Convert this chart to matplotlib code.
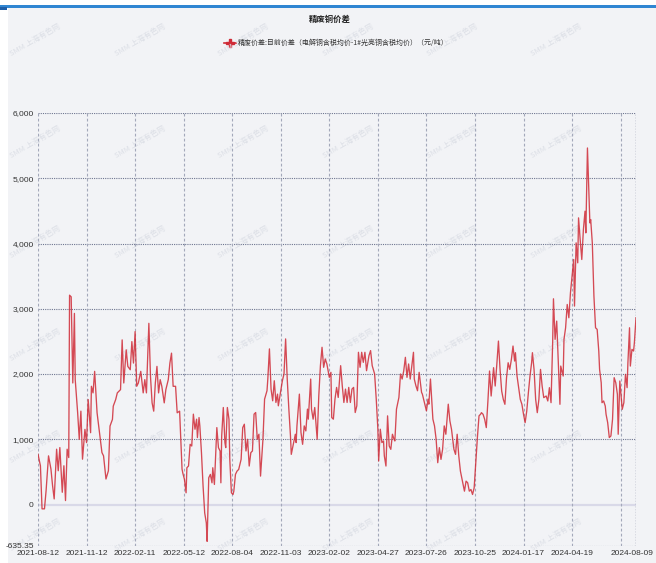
import matplotlib
matplotlib.use("Agg")
import matplotlib.pyplot as plt
import matplotlib.transforms as mtransforms
from matplotlib.lines import Line2D
from matplotlib.patches import Rectangle
from matplotlib import font_manager

# ---------------- data ----------------
title = "精废铜价差"
series_name = "精废价差:目前价差（电解铜含税均价-1#光亮铜含税均价）（元/吨）"
watermark = "SMM 上海有色网"

tick_days = [0, 60, 120, 180, 240, 300, 360, 420, 480, 540, 600, 660, 720, 739]
tick_labels = ["2021-08-12", "2021-11-12", "2022-02-11", "2022-05-12", "2022-08-04",
               "2022-11-03", "2023-02-02", "2023-04-27", "2023-07-26", "2023-10-25",
               "2024-01-17", "2024-04-19", "", "2024-08-09"]

y_ticks = [-635.35, 0, 1000, 2000, 3000, 4000, 5000, 6000]
y_tick_labels = ["-635.35", "0", "1,000", "2,000", "3,000", "4,000", "5,000", "6,000"]

# trading-day index of each reading
day = [0, 3, 5, 8, 10, 13, 16, 18, 20, 23, 25, 27, 30, 32, 34, 36, 38, 39, 41, 43,
       45, 46, 49, 51, 53, 55, 58, 60, 62, 65, 66, 68, 70, 73, 76, 79, 81, 84, 87, 89,
       92, 93, 96, 98, 102, 104, 106, 109, 111, 114, 116, 118, 120, 122, 124, 127, 130, 132, 134, 137,
       139, 141, 143, 145, 147, 149, 151, 153, 156, 158, 161, 163, 165, 167, 170, 172, 175, 178, 179, 181,
       183, 184, 186, 188, 190, 192, 194, 196, 197, 199, 200, 202, 204, 206, 208, 209, 211, 213, 215, 216,
       218, 221, 223, 225, 226, 227, 229, 231, 232, 234, 236, 237, 239, 241, 242, 244, 246, 248, 251, 253,
       255, 257, 259, 261, 263, 265, 267, 269, 271, 273, 275, 278, 280, 283, 284, 286, 288, 290, 292, 294,
       296, 297, 300, 302, 304, 306, 308, 310, 312, 313, 316, 318, 319, 320, 323, 325, 327, 329, 331, 333,
       334, 337, 338, 340, 342, 345, 347, 349, 351, 353, 355, 357, 360, 362, 363, 365, 367, 369, 371, 374,
       376, 378, 380, 382, 384, 386, 388, 390, 392, 394, 396, 398, 400, 402, 404, 406, 409, 411, 413, 416,
       418, 420, 421, 423, 425, 427, 428, 430, 432, 434, 436, 438, 440, 441, 443, 446, 448, 450, 452, 454,
       456, 458, 460, 462, 464, 465, 467, 469, 471, 474, 475, 478, 480, 482, 483, 485, 488, 490, 492, 494,
       496, 498, 500, 502, 504, 507, 509, 511, 514, 516, 518, 520, 522, 525, 527, 529, 531, 533, 535, 537,
       539, 541, 543, 545, 547, 548, 550, 552, 554, 556, 558, 560, 563, 565, 567, 569, 571, 573, 575, 577,
       579, 581, 583, 585, 587, 589, 590, 592, 594, 596, 598, 600, 602, 604, 606, 608, 610, 611, 613, 615,
       617, 619, 621, 623, 625, 628, 630, 632, 634, 636, 637, 639, 641, 643, 645, 646, 649, 650, 652, 654,
       656, 658, 660, 662, 663, 665, 667, 668, 670, 672, 674, 676, 677, 679, 681, 682, 683, 685, 687, 689,
       691, 693, 694, 696, 697, 699, 701, 702, 704, 706, 708, 710, 712, 714, 716, 717, 719, 721, 722, 724,
       726, 728, 729, 731, 732, 734, 736, 737, 739]

spread = [770, 594, -66, -66, 213, 746, 543, 289, 86, 848, 518, 873, 188, 594, 61, 848, 720, 3208, 3183, 1863,
          2929, 1914, 1406, 1000, 1431, 695, 1152, 949, 1609, 1101, 1812, 1711, 2041, 1406, 1101, 797, 746, 391, 518, 1203,
          1305, 1508, 1609, 1711, 1761, 2523, 1863, 2371, 2117, 2066, 2497, 2168, 2650, 1812, 1863, 2041, 1711, 1914, 1711, 2777,
          1964, 1558, 1431, 1863, 2117, 1711, 1914, 1812, 1558, 1761, 1914, 2168, 2320, 1812, 1812, 1406, 1431, 543, 480, 385,
          180, 564, 590, 923, 897, 1385, 1154, 1308, 1026, 1333, 1205, 795, 282, -128, -282, -564, 410, 462, 333, 564,
          308, 1179, 872, 821, 333, 1051, 1487, 949, 872, 1487, 1308, 692, 180, 154, 205, 462, 513, 538, 692, 1179,
          1231, 821, 1000, 590, 795, 821, 1385, 1410, 1000, 1077, 436, 1000, 1615, 1744, 1923, 2385, 1769, 1590, 1897, 1564,
          1692, 1513, 1744, 1897, 2000, 2538, 1923, 1462, 1051, 769, 949, 1077, 949, 1205, 1692, 1103, 923, 1205, 1128, 1462,
          1308, 1923, 1462, 1308, 1487, 1000, 1667, 2128, 2410, 2103, 2231, 2154, 1949, 2026, 1333, 1308, 1615, 1795, 1641, 2128,
          1821, 1564, 1769, 1564, 1795, 1564, 1769, 1795, 1410, 1513, 2333, 2103, 2333, 2179, 2333, 2051, 2282, 2359, 2128, 2000,
          1615, 1154, 667, 1154, 949, 974, 744, 590, 1359, 897, 846, 1077, 1000, 974, 1462, 1641, 2000, 1923, 2051, 2256,
          1949, 2154, 1923, 2128, 2333, 1923, 1821, 1744, 2026, 1718, 1692, 1538, 1436, 1615, 1538, 1923, 1308, 1205, 1000, 641,
          872, 692, 846, 1205, 1077, 1538, 1282, 1154, 846, 769, 1077, 744, 513, 333, 205, 359, 333, 205, 231, 154,
          256, 641, 1026, 1359, 1385, 1408, 1383, 1306, 1179, 1587, 2046, 1663, 2097, 1816, 2148, 2505, 2071, 1740, 1612, 1536,
          1944, 2173, 2071, 2224, 2429, 2199, 2327, 1969, 1791, 1612, 1536, 1383, 1255, 1434, 1714, 1969, 2173, 2327, 2071, 1612,
          1408, 1612, 2071, 1816, 1638, 1663, 1587, 1791, 1561, 2480, 3153, 2531, 2811, 2173, 1536, 2122, 1969, 2531, 2709, 3066,
          2862, 3245, 3500, 3755, 3041, 4010, 3704, 4393, 4061, 3755, 4214, 4495, 4163, 5464, 4724, 4316, 4367, 4010, 3194, 2709,
          2684, 2352, 2071, 1867, 1561, 1587, 1510, 1383, 1255, 1026, 1051, 1306, 1944, 1867, 1689, 1077, 1893, 1612, 1459, 1561,
          1995, 1791, 2173, 2709, 2122, 2378, 2352, 2480, 2862]

# ---------------- style ----------------
BG = "#f2f3f6"
LINE = "#cf2b37"
HGRID = "#6f7690"
VGRID = "#a3a8ba"
TXT = "#333333"
CJK = ["Noto Sans CJK SC", "DejaVu Sans"]

available = {f.name for f in font_manager.fontManager.ttflist}
TICK_FONT = "Liberation Sans Narrow" if "Liberation Sans Narrow" in available else "Liberation Sans"
TICK_SIZE = 7.2 if TICK_FONT == "Liberation Sans Narrow" else 6.0

W, H = 656, 563
fig = plt.figure(figsize=(W / 100, H / 100), dpi=100, facecolor="white")

# page background and top blue bar
fig.patches.append(Rectangle((8 / W, 0), 1 - 8 / W, 1 - 8 / H, transform=fig.transFigure,
                             facecolor=BG, edgecolor="none", zorder=0))
fig.patches.append(Rectangle((0, 1 - 7.5 / H), 1, 2.5 / H, transform=fig.transFigure,
                             facecolor="#2f86d2", edgecolor="none", zorder=1))
fig.patches.append(Rectangle((0, 1 - 9.5 / H), 7 / W, 2.5 / H, transform=fig.transFigure,
                             facecolor="#1f5fa8", edgecolor="none", zorder=1))

# watermarks
for wy in [40, 142, 242, 345, 447, 535]:
    for wx in [35, 140, 243, 348, 452, 556]:
        fig.text(wx / W, 1 - wy / H, watermark, family=CJK, fontsize=5.5, color="#dcdfe6",
                 rotation=30, ha="center", va="center", zorder=2)

ax_l, ax_r, ax_t, ax_b = 38, 636, 113, 546
ax = fig.add_axes([ax_l / W, 1 - ax_b / H, (ax_r - ax_l) / W, (ax_b - ax_t) / H])
ax.set_facecolor("none")
ax.set_zorder(3)

ax.set_xlim(0, tick_days[-1])
ax.set_ylim(y_ticks[0], y_ticks[-1])

# grid
for yv in y_ticks:
    if yv == 0:
        ax.axhline(yv, color="#d9d9e8", lw=1.6, zorder=1)
    else:
        ax.axhline(yv, color=HGRID, lw=0.8, ls=(0, (1, 1)), zorder=1)
for xv in tick_days[:-1]:
    ax.axvline(xv, color=VGRID, lw=0.8, ls=(0, (2.5, 2)), zorder=1)
ax.axvline(tick_days[-1], color=HGRID, lw=1.0, ls=(0, (1, 1)), zorder=1)

ax.plot(day, spread, color=LINE, lw=0.95, alpha=0.85, zorder=3, solid_joinstyle="round")

for s in ax.spines.values():
    s.set_visible(False)

ax.set_xticks(tick_days)
ax.set_xticklabels(tick_labels)
ax.set_yticks(y_ticks)
ax.set_yticklabels(y_tick_labels)
ax.tick_params(axis="both", length=0, labelsize=TICK_SIZE, labelcolor=TXT)
ax.tick_params(axis="x", pad=3)
ax.tick_params(axis="y", pad=3)
for lab in ax.get_xticklabels() + ax.get_yticklabels():
    lab.set_family(TICK_FONT)
# keep the last date label inside the picture
last = ax.get_xticklabels()[-1]
last.set_horizontalalignment("right")
last.set_transform(last.get_transform() +
                   mtransforms.ScaledTranslation(17 / 100, 0, fig.dpi_scale_trans))

# title and legend
fig.text(330 / W, 1 - 19 / H, title, family=CJK, fontsize=6, fontweight="bold",
         color="#222222", ha="center", va="center")
fig.lines.append(Line2D([224 / W, 230 / W, 236 / W], [1 - 43 / H] * 3, transform=fig.transFigure,
                        color=LINE, lw=1.2, marker="P", markersize=6, markevery=[1],
                        markerfacecolor=LINE, markeredgecolor=LINE))
fig.text(238 / W, 1 - 43 / H, series_name, family=CJK, fontsize=5.0,
         color="#333333", ha="left", va="center")

fig.savefig("out.png", dpi=100, facecolor="white")
